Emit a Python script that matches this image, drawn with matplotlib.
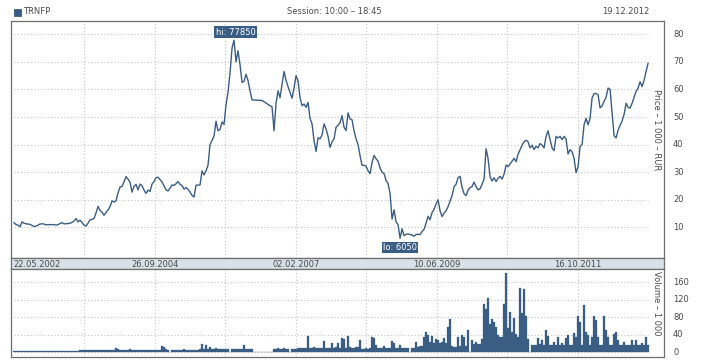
import numpy as np
import pandas as pd
import matplotlib
matplotlib.use("Agg")
import matplotlib.pyplot as plt
from matplotlib.patches import Rectangle

# ---------------- data ----------------
ticker = "TRNFP"
session_text = "Session: 10:00 \u2013 18:45"
date_text = "19.12.2012"
price_label = "Price \u2013 1 000 \u2013 RUR"
volume_label = "Volume \u2013 1 000"
start_date = "2002-05-22"
end_date = "2012-12-19"
date_labels = ["22.05.2002", "26.09.2004", "02.02.2007", "10.06.2009", "16.10.2011"]
price_ticks = [10, 20, 30, 40, 50, 60, 70, 80]
volume_ticks = [0, 40, 80, 120, 160]
hi_text = "hi: 77850"
lo_text = "lo: 6050"

nan = float("nan")
# price, thousand RUR (evenly spaced samples, ~12 days apart; nan = no trading)
price = [
    11.7, 11.0, 10.8, 10.2, 12.0, 11.5, 11.3, 11.2, 11.1, 10.7,
    10.3, 10.5, 10.8, 11.2, 11.3, 11.2, 10.9, 11.0, 11.0, 11.0,
    11.0, 10.8, 11.0, 11.4, 11.7, 11.3, 11.3, 11.4, 11.5, 11.8,
    12.3, 13.2, 12.0, 12.6, 11.8, 10.8, 10.5, 11.5, 12.7, 12.9,
    13.2, 15.2, 17.6, 16.2, 15.5, 14.4, 15.4, 16.3, 17.5, 19.6,
    19.2, 19.6, 22.5, 24.6, 24.8, 26.5, 28.4, 27.5, 26.4, 22.8,
    24.9, 25.6, 23.6, 25.7, 25.1, 23.5, 22.3, 23.5, 23.0, 25.7,
    26.6, 28.0, 28.2, 27.3, 26.5, 25.0, 23.6, 23.2, 24.2, 25.4,
    25.2, 25.8, 26.6, 25.6, 25.2, 23.9, 24.4, 23.8, 22.8, 21.6,
    21.0, 25.3, 25.3, 25.4, 30.5, 29.0, 30.5, 32.5, 40.0, 41.5,
    43.1, 48.5, 45.0, 45.5, 48.2, 47.3, 54.5, 59.0, 66.0, 75.0,
    77.85, 70.0, 74.0, 69.0, 62.5, 63.0, 65.5, 63.2, 59.5, 56.2,
    nan, nan, nan, nan, 56.0, nan, nan, nan, 54.1, 53.7,
    45.0, 55.0, 59.5, 57.0, 61.9, 66.5, 63.3, 61.0, 58.9, 56.8,
    60.5, 65.0, 63.1, 57.0, 54.1, 54.7, 53.5, 55.3, 49.5, 47.5,
    41.5, 37.5, 42.5, 42.1, 43.5, 47.5, 45.7, 43.0, 39.0, 41.0,
    42.1, 46.3, 47.0, 48.0, 50.5, 46.3, 45.1, 51.5, 49.3, 49.0,
    45.0, 42.1, 40.0, 36.0, 32.5, 32.5, 32.2, 30.5, 29.5, 33.5,
    36.1, 34.9, 34.0, 31.5, 30.0, 29.5, 27.0, 25.9, 22.3, 13.0,
    16.4, 12.0, 11.0, 6.05, 9.5, 7.0, 7.5, 7.6, 7.4, 7.2,
    6.8, 7.4, 7.5, 7.4, 8.5, 9.3, 11.5, 14.0, 12.8, 15.4,
    16.5, 18.5, 20.0, 16.0, 13.9, 15.2, 16.0, 17.5, 19.5, 21.5,
    24.8, 25.6, 28.0, 28.5, 24.5, 22.2, 21.5, 23.5, 24.4, 24.8,
    26.4, 24.8, 23.6, 24.0, 25.6, 27.5, 38.5, 35.0, 28.4, 26.8,
    28.0, 26.6, 27.8, 28.5, 27.5, 29.3, 32.6, 32.0, 33.0, 34.0,
    35.0, 33.8, 36.5, 38.2, 39.8, 41.0, 41.6, 41.0, 38.8, 39.8,
    38.2, 39.4, 38.8, 40.4, 39.8, 38.8, 43.0, 45.0, 41.8, 38.8,
    37.8, 43.0, 42.4, 43.0, 41.8, 43.0, 42.0, 36.6, 38.2, 37.4,
    35.0, 29.8, 32.0, 39.4, 40.0, 47.2, 49.5, 47.2, 49.5, 56.9,
    58.5, 58.5, 58.1, 53.3, 54.0, 55.7, 57.2, 60.5, 60.0, 51.5,
    43.2, 42.4, 45.2, 47.0, 48.5, 51.0, 55.0, 53.5, 53.2, 55.0,
    57.2, 59.3, 60.5, 62.8, 61.0, 63.3, 66.5, 69.5,
]
# volume, thousand (same sampling as price)
volume = [
    4, 4, 4, 4, 4, 4, 4, 4, 4, 4,
    4, 4, 4, 4, 4, 4, 4, 4, 4, 4,
    4, 4, 4, 4, 4, 4, 4, 4, 4, 4,
    4, 4, 4, 5.5, 4.5, 4.5, 4.5, 4.5, 4.5, 6,
    4.5, 4.5, 6, 4.5, 4.5, 4.5, 4.5, 4.5, 4.5, 5,
    6, 10, 8, 6, 6, 6, 6, 6, 7, 6,
    6, 6, 6, 6, 6, 6, 6, 6, 6, 6,
    6, 6, 6, 6, 15, 12, 7, 6, 0, 5,
    5, 5, 5, 5, 5, 7, 5, 5, 5, 5,
    5, 5, 5, 7, 19, 8, 17, 8, 13, 8,
    8, 10, 8, 8, 8, 8, 8, 8, 0, 6.5,
    6.5, 6.5, 6.5, 6.5, 6.5, 17, 6.5, 6.5, 6.5, 6.5,
    0, 0, 0, 0, 0, 0, 0, 0, 0, 0,
    7, 7, 10, 7, 7, 11, 7, 7, 0, 8,
    8, 8, 9, 9, 9, 9, 9, 38, 10, 9,
    12, 9, 9, 10, 9, 27, 10, 9, 10, 22,
    10, 12, 21, 10, 32, 30, 10, 38, 13, 10,
    10, 12, 13, 28, 8, 8, 9, 8, 10, 34,
    32, 17, 10, 10, 11, 15, 10, 10, 11, 27,
    21, 9, 9, 17, 9, 9, 10, 9, 0, 9,
    10, 24, 12, 14, 15, 34, 47, 40, 24, 37,
    22, 30, 28, 22, 24, 32, 22, 57, 76, 14,
    13, 13, 36, 14, 40, 34, 14, 51, 0, 28,
    18, 24, 18, 19, 30, 110, 100, 123, 65, 75,
    70, 57, 40, 36, 34, 110, 182, 55, 93, 47,
    78, 43, 34, 148, 90, 144, 82, 30, 0, 17,
    17, 17, 32, 18, 28, 17, 51, 37, 17, 17,
    24, 17, 34, 17, 21, 17, 32, 40, 17, 17,
    45, 36, 82, 70, 17, 108, 47, 40, 17, 36,
    82, 74, 34, 17, 17, 82, 51, 34, 17, 17,
    43, 47, 28, 17, 17, 24, 17, 17, 17, 28,
    17, 28, 17, 17, 21, 17, 36, 17,
]

# ---------------- styling ----------------
LINE = "#3a5d84"
FRAME = "#6e6e6e"
GRID = "#c4c4c4"
TEXT = "#4a4a4a"
STRIP = "#d9e0e7"
FS = 6

W, H = 718, 360
fig = plt.figure(figsize=(W / 100, H / 100), dpi=100)
plt.rcParams["font.family"] = ["DejaVu Sans"]


def fbox(x0, y0, x1, y1):
    """pixel box (top-left origin) -> figure fraction rect"""
    return [x0 / W, 1 - y1 / H, (x1 - x0) / W, (y1 - y0) / H]


ax = fig.add_axes(fbox(11, 21, 664, 258))
axs = fig.add_axes(fbox(11, 258, 664, 269))
axv = fig.add_axes(fbox(11, 269, 664, 357))

price_arr = np.array(price, dtype=float)
vol_arr = np.array(volume, dtype=float)
dates = pd.date_range(start_date, end_date, periods=len(price_arr))
step = (dates[1] - dates[0])
t0 = pd.Timestamp(start_date)
t1 = pd.Timestamp(end_date)
xlim = (t0 - pd.Timedelta(days=18.3), t1 + pd.Timedelta(days=97))

lab_dates = [pd.Timestamp(pd.to_datetime(d, format="%d.%m.%Y")) for d in date_labels]
grid_dates = []
for a, b in zip(lab_dates[:-1], lab_dates[1:]):
    grid_dates.append(a + (b - a) / 2 if a != lab_dates[0] else None)
grid_dates = []
for i in range(1, len(lab_dates)):
    a, b = lab_dates[i - 1], lab_dates[i]
    grid_dates.append(a + (b - a) / 2)
    grid_dates.append(b)

for a in (ax, axs, axv):
    a.set_xlim(*xlim)
    a.set_xticks([])
    a.set_yticks([])
    for s in a.spines.values():
        s.set_color(FRAME)
        s.set_linewidth(0.9)

# main price panel
ax.set_ylim(-1.1, 84.8)
ax.hlines(price_ticks, t0, t1, colors=GRID, linestyles=(0, (1, 2)), linewidth=0.8, zorder=1)
for g in grid_dates:
    ax.axvline(g, color=GRID, linestyle=(0, (1, 2)), linewidth=0.8, zorder=1)
m = ~np.isnan(price_arr)
ax.plot(dates[m], price_arr[m], color=LINE, linewidth=1.0, zorder=3)
for t in price_ticks:
    ax.text(1.0 + 9 / 653, t, str(t), transform=ax.get_yaxis_transform(), fontsize=FS,
            color=TEXT, ha="left", va="center")

ih = int(np.nanargmax(price_arr))
il = int(np.nanargmin(price_arr))
bb = dict(boxstyle="square,pad=0.15", facecolor=LINE, edgecolor="none")
ax.annotate(hi_text, (dates[ih], price_arr[ih]), xytext=(1, 2.5), textcoords="offset points",
            ha="center", va="bottom", fontsize=FS, color="white", bbox=bb, zorder=5)
ax.annotate(lo_text, (dates[il], price_arr[il]), xytext=(0, -3.5), textcoords="offset points",
            ha="center", va="top", fontsize=FS, color="white", bbox=bb, zorder=5)

# date strip
axs.set_facecolor(STRIP)
axs.set_ylim(0, 1)
axs.text(t0 - pd.Timedelta(days=6), 0.45, date_labels[0], fontsize=FS, color=TEXT, ha="left", va="center")
for d, lab in zip(lab_dates[1:], date_labels[1:]):
    axs.text(d, 0.45, lab, fontsize=FS, color=TEXT, ha="center", va="center")

# volume panel
axv.set_ylim(-10.7, 190.4)
axv.hlines(volume_ticks, t0, t1, colors=GRID, linestyles=(0, (1, 2)), linewidth=0.8, zorder=1)
for g in grid_dates:
    axv.axvline(g, color=GRID, linestyle=(0, (1, 2)), linewidth=0.8, zorder=1)
axv.bar(dates, vol_arr, width=step, color=LINE, edgecolor=LINE, linewidth=0.2, align="center", zorder=3)
for t in volume_ticks:
    axv.text(1.0 + 9 / 653, t, str(t), transform=axv.get_yaxis_transform(), fontsize=FS,
             color=TEXT, ha="left", va="center")

# side labels
fig.text(656 / W, 1 - 130 / H, price_label, rotation=270, fontsize=FS, color=TEXT, ha="center", va="center")
fig.text(656 / W, 1 - 303 / H, volume_label, rotation=270, fontsize=FS, color=TEXT, ha="center", va="center")

# header
fig.patches.append(Rectangle((14 / W, 1 - 16 / H), 7 / W, 7 / H, transform=fig.transFigure,
                             facecolor=LINE, edgecolor="#2b4766", linewidth=0.5))
fig.text(23 / W, 1 - 12 / H, ticker, fontsize=FS, color=TEXT, ha="left", va="center")
fig.text(334 / W, 1 - 12 / H, session_text, fontsize=FS, color=TEXT, ha="center", va="center")
fig.text(649 / W, 1 - 12 / H, date_text, fontsize=FS, color=TEXT, ha="right", va="center")

fig.savefig("out.png", dpi=100, facecolor="white")
